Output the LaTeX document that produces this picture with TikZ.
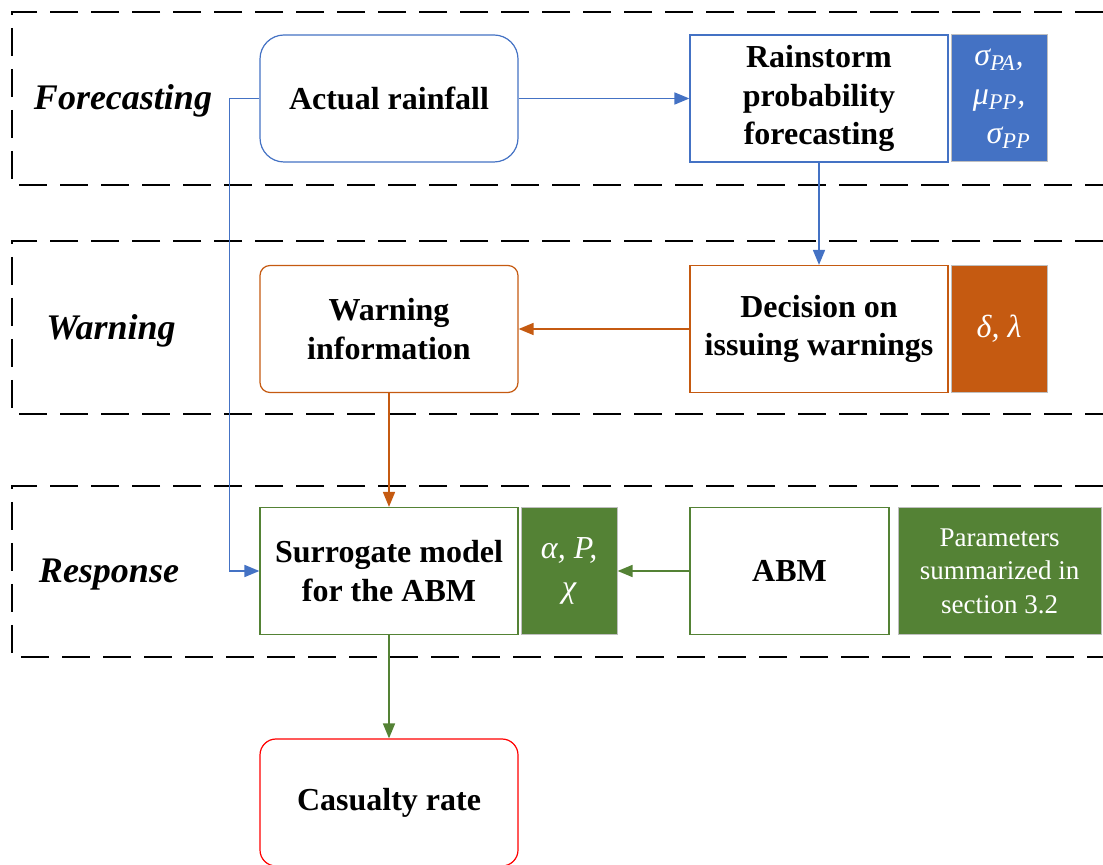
\documentclass[tikz,border=0pt]{standalone}
\usepackage{fontspec}
\setmainfont{Liberation Serif}
\usepackage{tikz}
\usetikzlibrary{arrows.meta,positioning}
\definecolor{flowBlue}{HTML}{4472C4}
\definecolor{flowOrange}{HTML}{C55A11}
\definecolor{flowGreen}{HTML}{548235}
\definecolor{flowRed}{HTML}{FF0000}
\definecolor{flowGrey}{HTML}{BFBFBF}
\newcommand{\sub}[1]{\textsubscript{#1}}

\begin{document}
\begin{tikzpicture}[
    x=0.5pt, y=-0.5pt,
    >={Triangle[length=7.5pt,width=6pt]},
    box/.style={draw, line width=0.6pt, fill=white, minimum width=129pt,
                minimum height=63.5pt, align=center,
                font=\bfseries\fontsize{16}{19.2}\selectfont},
    par/.style={draw=flowGrey, line width=0.5pt, text=white, minimum width=48pt,
                minimum height=63.5pt, align=center,
                font=\itshape\fontsize{16}{19.5}\selectfont},
    stage/.style={font=\bfseries\itshape\fontsize{18}{21}\selectfont},
    frame/.style={dash pattern=on 14pt off 6.5pt, line width=1pt},
    link/.style={->, line width=0.85pt},
  ]
  \useasboundingbox (0,0) rectangle (1103,865);

  % stage frames
  \draw[frame] (1103,12) -| (12,185) -- (1103,185);
  \draw[frame] (1103,241) -| (12,414) -- (1103,414);
  \draw[frame] (1103,486) -| (12,657) -- (1103,657);

  \node[stage] (lfc) at (123,101) {Forecasting};
  \node[stage] (lwn) at (111,331) {Warning};
  \node[stage] (lrs) at (109,575) {Response};

  % forecasting
  \node[box, draw=flowBlue, rounded corners=12pt] (rain) at (389,98.5) {Actual rainfall};
  \node[box, draw=flowBlue] (fcst) at (819,98.5) {Rainstorm\\probability\\forecasting};
  \node[par, fill=flowBlue, right=1pt of fcst] (fcstpar)
    {σ\sub{\itshape PA},\\μ\sub{\itshape PP},\\\hspace{0.6em}σ\sub{\itshape PP}};

  % warning
  \node[box, draw=flowOrange, rounded corners=5pt] (warn) at (389,329) {Warning\\information};
  \node[box, draw=flowOrange] (dec) at (819,329) {Decision on\\issuing warnings};
  \node[par, fill=flowOrange, right=1pt of dec] (decpar) {δ, λ};

  % response
  \node[box, draw=flowGreen] (surr) at (389,571) {Surrogate model\\for the ABM};
  \node[par, fill=flowGreen, right=1pt of surr] (surrpar) {α, \textit{P},\\χ};
  \node[box, draw=flowGreen, minimum width=99.5pt] (abm) at (789.5,571) {ABM};
  \node[par, fill=flowGreen, minimum width=101.5pt, right=4pt of abm,
        font=\fontsize{13.5}{16.75}\selectfont] (abmpar)
    {Parameters\\summarized in\\section 3.2};

  \node[box, draw=flowRed, rounded corners=8pt] (cas) at (389,802.5) {Casualty rate};

  % connectors
  \draw[link, flowBlue] (rain) -- (fcst);
  \draw[link, flowBlue] (rain.west) -- ++(-30,0) |- (surr.west);
  \draw[link, flowBlue] (fcst) -- (dec);
  \draw[link, flowOrange] (dec) -- (warn);
  \draw[link, flowOrange] (warn) -- (surr);
  \draw[link, flowGreen] (abm) -- (surrpar);
  \draw[link, flowGreen] (surr) -- (cas);

\end{tikzpicture}
\end{document}
